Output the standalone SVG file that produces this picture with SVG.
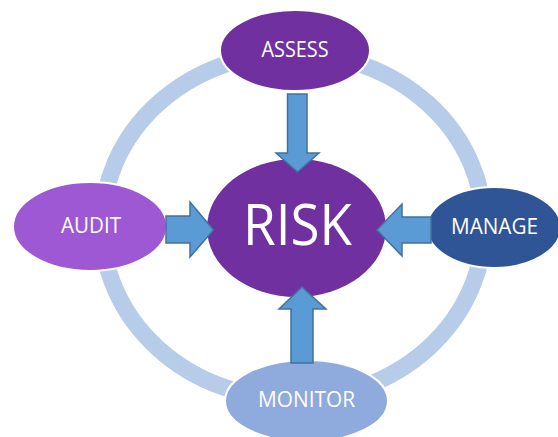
<svg xmlns="http://www.w3.org/2000/svg" width="558" height="437" viewBox="0 0 558 437">
<style>
.node{stroke:#ffffff;stroke-width:2}
.lbl{font-family:"Open Sans","Noto Sans","Liberation Sans",sans-serif;fill:#ffffff;text-anchor:middle}
.arrow{fill:#5B9BD5;stroke:#41719C;stroke-width:1.5;stroke-linejoin:miter}
</style>
<rect width="558" height="437" fill="#ffffff"/>
<g id="ring">
<ellipse cx="293" cy="226" rx="191" ry="173" fill="none" stroke="#B6CCE8" stroke-width="17"/>
</g>
<g id="assess">
<ellipse class="node" cx="295" cy="50.5" rx="75" ry="40.5" fill="#7030A0"/>
<text class="lbl" x="295" y="57" font-size="21" textLength="67" lengthAdjust="spacingAndGlyphs">ASSESS</text>
</g>
<g id="audit">
<ellipse class="node" cx="90" cy="226.5" rx="77" ry="44.5" fill="#9E58D4"/>
<text class="lbl" x="91" y="233" font-size="21" textLength="60" lengthAdjust="spacingAndGlyphs">AUDIT</text>
</g>
<g id="manage">
<ellipse class="node" cx="494" cy="227.5" rx="67" ry="40.5" fill="#2F5597"/>
<text class="lbl" x="494.5" y="234" font-size="21" textLength="87" lengthAdjust="spacingAndGlyphs">MANAGE</text>
</g>
<g id="monitor">
<ellipse class="node" cx="306.5" cy="401" rx="81.5" ry="41" fill="#8FAADC"/>
<text class="lbl" x="306.5" y="407" font-size="21" textLength="97" lengthAdjust="spacingAndGlyphs">MONITOR</text>
</g>
<g id="risk">
<ellipse cx="296.5" cy="228" rx="89.5" ry="69" fill="#7030A0"/>
<text class="lbl" x="297.5" y="245" font-size="56" textLength="109" lengthAdjust="spacingAndGlyphs">RISK</text>
</g>
<g id="connectors">
<polygon class="arrow" points="287.5,94 307,94 307,153 319,153 297.5,172 276,153 287.5,153"/>
<polygon class="arrow" points="291,363 313,363 313,309 326,309 302,287 279,309 291,309"/>
<polygon class="arrow" points="166,216 190,216 190,202 213.5,230 190,257 190,243 166,243"/>
<polygon class="arrow" points="431,217 402,217 402,204 377,230 402,256 402,243 431,243"/>
</g>
</svg>
